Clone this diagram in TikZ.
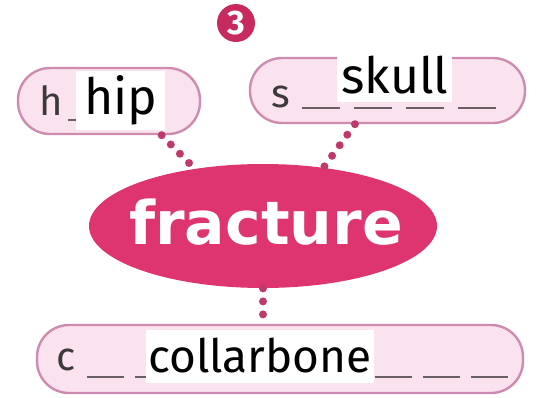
\documentclass[tikz,border=0pt]{standalone}
\usepackage{fontspec}
\setmainfont{Fira Sans}
\newfontfamily\fracfont{DejaVu Sans}
\usetikzlibrary{shapes.geometric}

\definecolor{fracpink}{RGB}{222,52,112}
\definecolor{numpink}{RGB}{200,42,96}
\definecolor{pillfill}{RGB}{251,226,239}
\definecolor{pillline}{RGB}{205,140,175}
\definecolor{dotpink}{RGB}{190,58,108}
\definecolor{lettergray}{RGB}{60,56,60}
\definecolor{blankgray}{RGB}{105,95,100}

\tikzset{
	pill/.style={draw=pillline, fill=pillfill, line width=1.2pt, rounded corners=16pt, inner sep=0pt},
	answer/.style={fill=white, inner sep=0pt, text=black},
	letter/.style={text=lettergray, font=\fontsize{20}{20}\selectfont},
	dots/.style={draw=dotpink, line width=4pt, line cap=round, dash pattern=on 0pt off 6.5pt},
	blank/.style={draw=blankgray, line width=1pt, dash pattern=on 19pt off 7pt}
}

\begin{document}
\begin{tikzpicture}[x=0.5pt,y=-0.5pt]
	\useasboundingbox (0,0) rectangle (538,398);
	
	% number badge
	\node[circle, fill=numpink, minimum size=19pt, inner sep=0pt, text=white,
		font=\fontsize{17}{17}\selectfont\bfseries] (num) at (236,23) {3};
	
	% the three word pills
	\node[pill, minimum width=91pt, minimum height=33pt] (hpill) at (109,101) {};
	\node[pill, minimum width=137.5pt, minimum height=32.5pt] (spill) at (387.5,90.5) {};
	\node[pill, minimum width=243pt, minimum height=34pt] (cpill) at (280,359) {};
	
	% blanks
	\draw[blank] (68,120) -- (172,120);
	\draw[blank] (302,108) -- (498,108);
	\draw[blank, dash pattern=on 18.5pt off 5.5pt] (87,377) -- (510,377);
	
	% first letters
	\node[letter] (h) at (51,101) {h};
	\node[letter] (s) at (281,97) {s};
	\node[letter] (c) at (66,360) {c};
	
	% answers
	\node[answer, minimum width=44.5pt, minimum height=29.5pt,
		font=\fontsize{25}{25}\selectfont] (hip) at (121,100) {hip};
	\node[answer, minimum width=57.5pt, minimum height=27pt,
		font=\fontsize{25}{25}\selectfont] (skull) at (395,75) {skull};
	\node[answer, minimum width=114pt, minimum height=26.5pt,
		font=\fontsize{23}{23}\selectfont] (collar) at (260,356) {collarbone};
	
	% centre
	\node[ellipse, fill=fracpink, minimum width=174pt, minimum height=62pt, inner sep=0pt] (frac) at (263,226) {};
	\node[text=white, font=\fracfont\bfseries\fontsize{30}{30}\selectfont] (fracword) at (266,222) {fracture};
	
	\draw[dots] (hpill.-33) -- (frac.140);
	\draw[dots] (spill.-134) -- (frac.44);
	\draw[dots] (frac.south) -- (cpill.north -| frac.south);
\end{tikzpicture}
\end{document}
